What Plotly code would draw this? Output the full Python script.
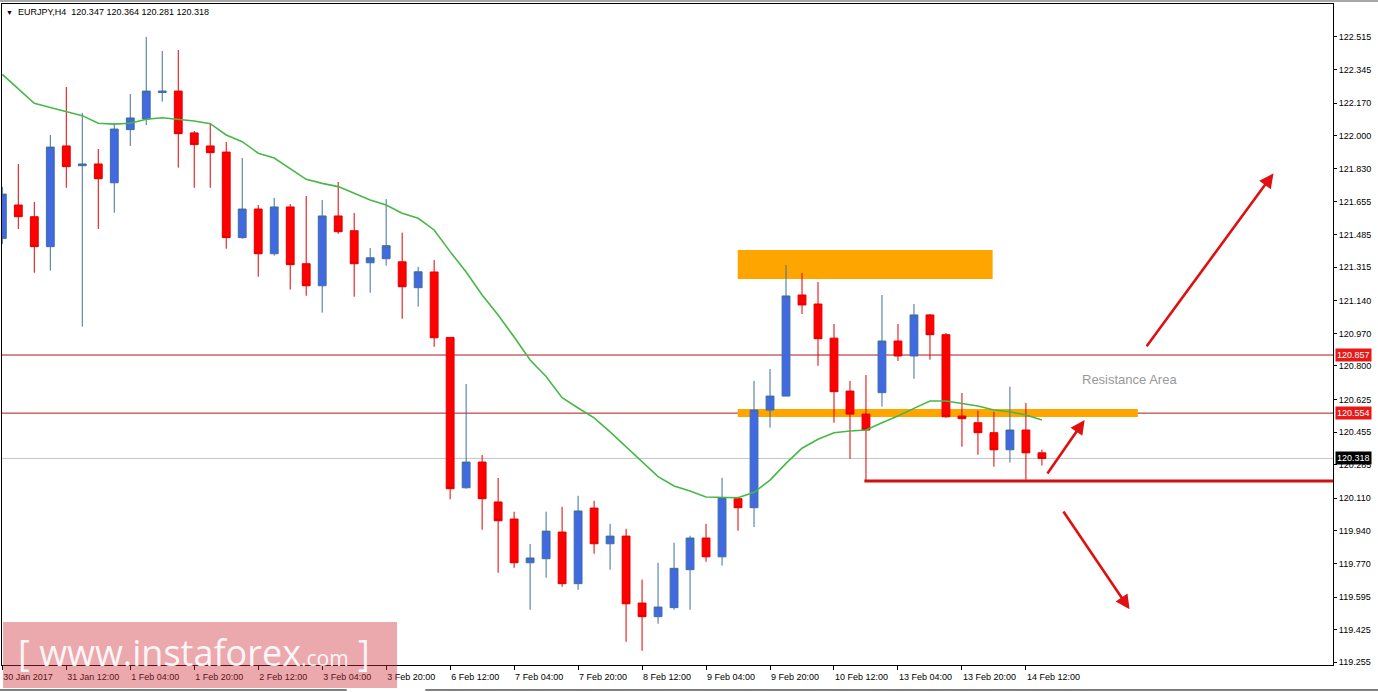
import plotly.graph_objects as go

# ---------------- data (EURJPY H4) ----------------
opens = [121.465, 121.639, 121.578, 121.422, 121.947, 121.844, 121.853, 121.755, 122.032, 122.088,
         122.226, 122.233, 122.015, 121.947, 121.915, 121.469, 121.618, 121.385, 121.629, 121.333,
         121.218, 121.582, 121.505, 121.338, 121.359, 121.343, 121.208, 121.290, 120.949, 120.165,
         120.299, 120.091, 120.002, 119.774, 119.795, 119.934, 119.665, 120.059, 119.873, 119.913,
         119.564, 119.493, 119.540, 119.738, 119.903, 119.805, 120.108, 120.061, 120.570, 120.643,
         121.170, 121.123, 120.945, 120.669, 120.549, 120.661, 120.930, 120.852, 121.066, 120.963,
         120.539, 120.504, 120.452, 120.363, 120.466, 120.347]
highs = [121.734, 121.853, 121.655, 122.004, 122.254, 122.119, 121.931, 122.067, 122.218, 122.515,
         122.442, 122.447, 122.025, 122.063, 121.968, 121.884, 121.639, 121.676, 121.644, 121.686,
         121.665, 121.759, 121.597, 121.415, 121.670, 121.495, 121.317, 121.352, 120.949, 120.706,
         120.336, 120.216, 120.040, 119.872, 120.040, 120.066, 120.123, 120.097, 119.977, 119.951,
         119.686, 119.774, 119.878, 119.915, 119.977, 120.217, 120.118, 120.722, 120.784, 121.326,
         121.285, 121.238, 121.019, 120.722, 120.753, 121.170, 121.019, 121.123, 121.071, 120.972,
         120.659, 120.567, 120.561, 120.692, 120.607, 120.364]
lows = [121.436, 121.514, 121.286, 121.297, 121.729, 121.005, 121.514, 121.599, 121.947, 122.056,
        122.178, 121.834, 121.729, 121.729, 121.411, 121.463, 121.265, 121.375, 121.198, 121.166,
        121.078, 121.489, 121.161, 121.182, 121.323, 121.046, 121.109, 120.900, 120.105, 120.160,
        119.946, 119.722, 119.748, 119.529, 119.696, 119.649, 119.633, 119.821, 119.738, 119.362,
        119.315, 119.456, 119.529, 119.529, 119.779, 119.759, 119.941, 119.960, 120.478, 120.642,
        121.071, 120.801, 120.504, 120.316, 120.205, 120.588, 120.826, 120.733, 120.833, 120.530,
        120.379, 120.337, 120.275, 120.296, 120.207, 120.281]
closes = [121.696, 121.578, 121.422, 121.941, 121.839, 121.853, 121.776, 122.035, 122.093, 122.233,
          122.233, 122.011, 121.954, 121.912, 121.469, 121.618, 121.385, 121.629, 121.328, 121.218,
          121.582, 121.500, 121.333, 121.364, 121.427, 121.213, 121.291, 120.947, 120.160, 120.299,
          120.108, 119.993, 119.774, 119.799, 119.939, 119.665, 120.044, 119.873, 119.913, 119.560,
          119.493, 119.543, 119.745, 119.903, 119.805, 120.113, 120.061, 120.570, 120.643, 121.165,
          121.118, 120.942, 120.666, 120.549, 120.466, 120.930, 120.852, 121.066, 120.963, 120.535,
          120.525, 120.452, 120.363, 120.466, 120.347, 120.318]
ma_values = [122.320, 122.244, 122.169, 122.147, 122.126, 122.105, 122.065, 122.061, 122.065, 122.086,
             122.094, 122.087, 122.077, 122.063, 122.004, 121.969, 121.909, 121.884, 121.830, 121.773,
             121.752, 121.735, 121.700, 121.665, 121.639, 121.596, 121.570, 121.509, 121.396, 121.290,
             121.170, 121.066, 120.951, 120.831, 120.745, 120.635, 120.581, 120.529, 120.456, 120.377,
             120.299, 120.223, 120.174, 120.148, 120.117, 120.114, 120.113, 120.141, 120.205, 120.292,
             120.371, 120.418, 120.452, 120.461, 120.466, 120.504, 120.539, 120.579, 120.617, 120.617,
             120.605, 120.591, 120.570, 120.561, 120.544, 120.518]
bar_index = list(range(len(opens)))

x_tick_bars = [0, 4, 8, 12, 16, 20, 24, 28, 32, 36, 40, 44, 48, 52, 56, 60, 64]
x_tick_labels = ["30 Jan 2017", "31 Jan 12:00", "1 Feb 04:00", "1 Feb 20:00", "2 Feb 12:00",
                 "3 Feb 04:00", "3 Feb 20:00", "6 Feb 12:00", "7 Feb 04:00", "7 Feb 20:00",
                 "8 Feb 12:00", "9 Feb 04:00", "9 Feb 20:00", "10 Feb 12:00", "13 Feb 04:00",
                 "13 Feb 20:00", "14 Feb 12:00"]
y_tick_values = [122.515, 122.345, 122.170, 122.000, 121.830, 121.655, 121.485, 121.315, 121.140,
                 120.970, 120.800, 120.625, 120.455, 120.285, 120.110, 119.940, 119.770, 119.595,
                 119.425, 119.255]
y_tick_labels = ["%.3f" % v for v in y_tick_values]

level_high = 120.857
level_mid = 120.554
last_price = 120.318
support_level = 120.200
resist_top = (121.253, 121.404)
resist_band = (120.534, 120.575)

# ---------------- figure ----------------
FONT = "Liberation Sans, Arial, sans-serif"
fig = go.Figure()

fig.add_trace(go.Candlestick(
    x=bar_index, open=opens, high=highs, low=lows, close=closes,
    increasing=dict(line=dict(color="#3f6f9c", width=1), fillcolor="#4169e1"),
    decreasing=dict(line=dict(color="#e00000", width=1), fillcolor="#ff0000"),
    whiskerwidth=0, showlegend=False, hoverinfo="skip",
))
fig.add_trace(go.Scatter(
    x=bar_index, y=ma_values, mode="lines",
    line=dict(color="#46b846", width=1.6), showlegend=False, hoverinfo="skip",
))

shapes = []
shapes.append(dict(type="rect", xref="x", yref="y", x0=45.98, x1=61.92, y0=resist_top[0], y1=resist_top[1],
                   fillcolor="#ffa500", line=dict(width=0), layer="below"))
shapes.append(dict(type="rect", xref="x", yref="y", x0=45.98, x1=71.0, y0=resist_band[0], y1=resist_band[1],
                   fillcolor="#ffa500", line=dict(width=0), layer="below"))
for lv in (level_high, level_mid):
    shapes.append(dict(type="line", xref="paper", yref="y", x0=0, x1=1, y0=lv, y1=lv,
                       line=dict(color="#b01818", width=1), layer="below"))
shapes.append(dict(type="line", xref="paper", yref="y", x0=0, x1=1, y0=last_price, y1=last_price,
                   line=dict(color="#c4c4c4", width=1), layer="below"))
shapes.append(dict(type="line", xref="x", yref="y", x0=53.9, x1=83.3, y0=support_level, y1=support_level,
                   line=dict(color="#d40f0f", width=3), layer="below"))
# window chrome
shapes.append(dict(type="rect", xref="paper", yref="paper", x0=-0.01, x1=1.04, y0=1.003, y1=1.02,
                   fillcolor="#a8a8a8", line=dict(width=0)))
shapes.append(dict(type="line", xref="paper", yref="paper", x0=-0.01, x1=0.259, y0=-0.0378, y1=-0.0378,
                   line=dict(color="#000000", width=1)))
shapes.append(dict(type="line", xref="paper", yref="paper", x0=0.318, x1=1.04, y0=-0.0378, y1=-0.0378,
                   line=dict(color="#000000", width=1)))
# watermark box
shapes.append(dict(type="rect", xref="paper", yref="paper", x0=0.0008, x1=0.2968, y0=-0.0348, y1=0.0651,
                   fillcolor="rgba(210,50,60,0.42)", line=dict(width=0), layer="above"))

annotations = []
annotations.append(dict(xref="paper", yref="paper", x=(4 - 2) / 1331, y=(665 - 12) / 661, xanchor="left",
                        yanchor="middle", showarrow=False, text="▼",
                        font=dict(family=FONT, size=7, color="#000000")))
annotations.append(dict(xref="paper", yref="paper", x=(16 - 2) / 1331, y=(665 - 12) / 661, xanchor="left",
                        yanchor="middle", showarrow=False,
                        text="EURJPY,H4  120.347 120.364 120.281 120.318",
                        font=dict(family=FONT, size=9, color="#000000")))
for lv, bg in ((level_high, "#e81818"), (level_mid, "#e81818"), (last_price, "#000000")):
    annotations.append(dict(xref="paper", yref="y", x=1.0015, y=lv, xanchor="left", yanchor="middle",
                            showarrow=False, text="%.3f" % lv, bgcolor=bg, borderpad=1,
                            font=dict(family=FONT, size=9, color="#ffffff")))
annotations.append(dict(xref="x", yref="y", x=67.36, y=120.732, xanchor="left", yanchor="middle",
                        showarrow=False, text="Resistance Area",
                        font=dict(family=FONT, size=13, color="#999999")))
for (tx, ty, hx, hy) in ((71.48, 120.895, 79.48, 121.804),
                         (65.28, 120.231, 67.67, 120.518),
                         (66.28, 120.049, 70.48, 119.531)):
    annotations.append(dict(xref="x", yref="y", axref="x", ayref="y", x=hx, y=hy, ax=tx, ay=ty,
                            text="", showarrow=True, arrowhead=2, arrowsize=1.1, arrowwidth=2.6,
                            arrowcolor="#e01010"))
annotations.append(dict(xref="paper", yref="paper", x=(16 - 2) / 1331, y=(665 - 652) / 661,
                        xanchor="left", yanchor="middle", showarrow=False,
                        text="[ www.instaforex<span style='font-size:21px'>.com</span> ]",
                        font=dict(family="Open Sans, Liberation Sans, sans-serif", size=36,
                                  color="rgba(255,255,255,0.92)")))

fig.update_layout(
    width=1378, height=692,
    margin=dict(l=2, r=45, t=4, b=27),
    paper_bgcolor="#ffffff", plot_bgcolor="#ffffff",
    shapes=shapes, annotations=annotations,
    showlegend=False,
    xaxis=dict(range=[-0.02, 83.2], tickmode="array", tickvals=x_tick_bars, ticktext=x_tick_labels,
               ticks="outside", ticklen=4, tickcolor="#000000", ticklabelposition="outside right",
               ticklabelstandoff=3,
               showgrid=False, zeroline=False, showline=True, linecolor="#000000", linewidth=1,
               mirror=True, rangeslider=dict(visible=False),
               tickfont=dict(family=FONT, size=9, color="#000000")),
    yaxis=dict(range=[119.241, 122.687], side="right", tickmode="array", tickvals=y_tick_values,
               ticktext=y_tick_labels, ticks="outside", ticklen=3, tickcolor="#000000",
               showgrid=False, zeroline=False, showline=True, linecolor="#000000", linewidth=1,
               mirror=True, tickfont=dict(family=FONT, size=9, color="#000000")),
)

fig.write_html("out.html", config={"displayModeBar": False},
               post_script="document.body.style.margin='0';document.body.style.overflow='hidden';")
